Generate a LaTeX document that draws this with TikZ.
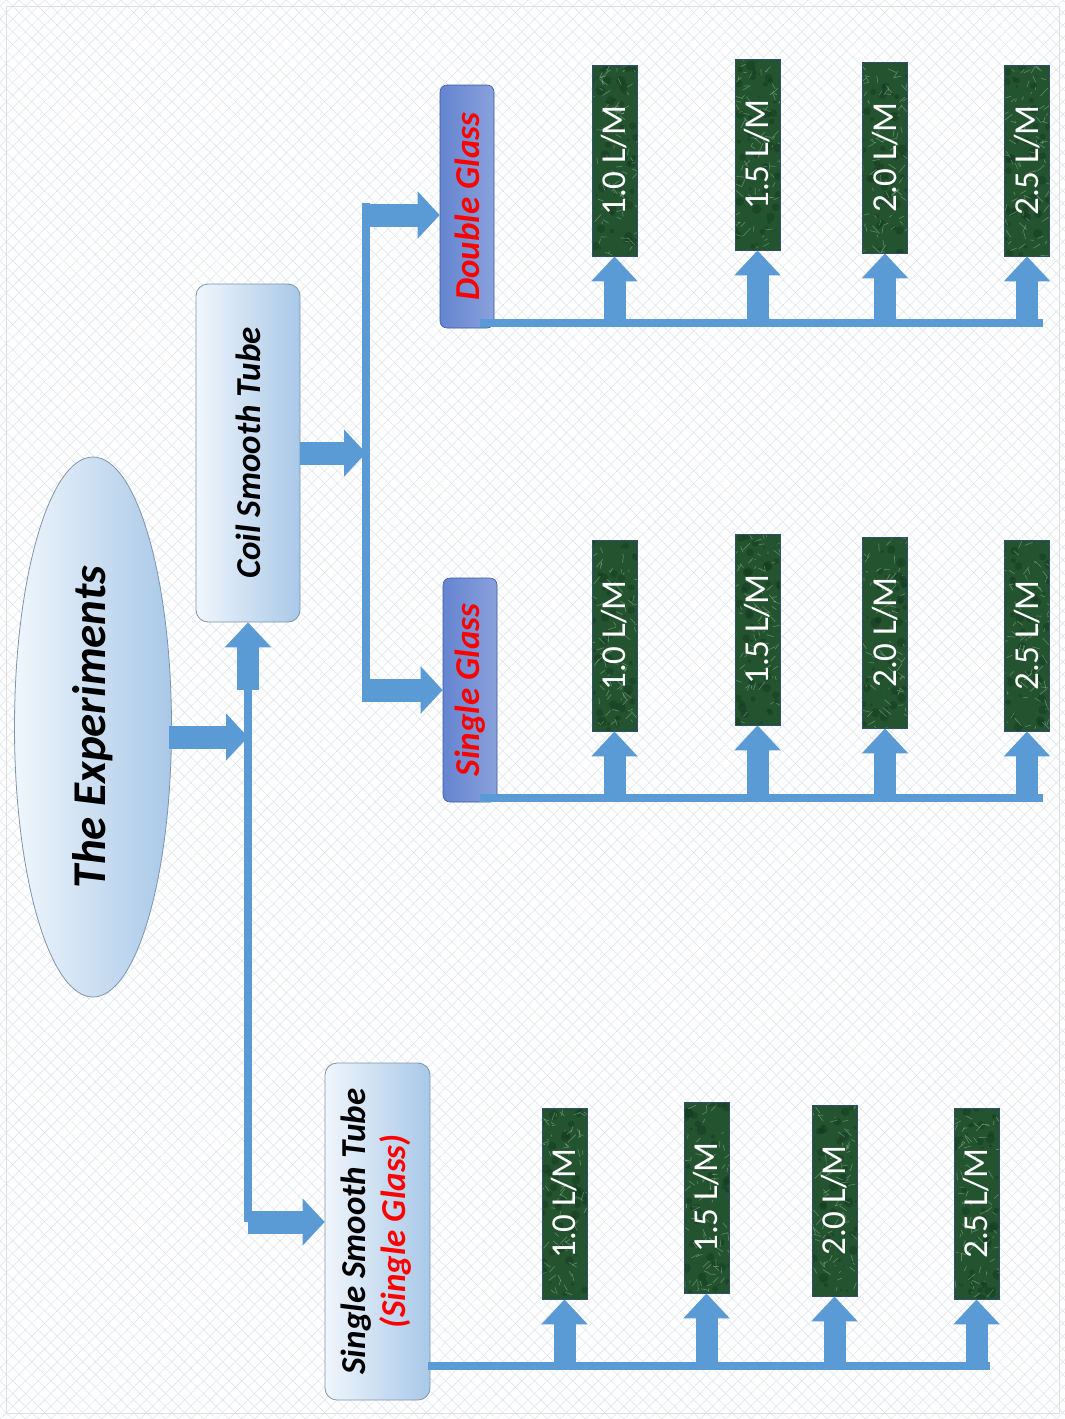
\documentclass[tikz,border=0pt]{standalone}
\usepackage{fontspec}
\setmainfont{Carlito}
\usetikzlibrary{arrows.meta,patterns.meta,calc,shapes.geometric}
\definecolor{lnblue}{HTML}{5B9BD5}
\definecolor{lnedge}{HTML}{41719C}
\definecolor{bxedge}{HTML}{7D95AD}
\definecolor{bxlight}{HTML}{F0F6FC}
\definecolor{bxdark}{HTML}{A9C8E8}
\definecolor{glblue}{HTML}{4A6FC8}
\definecolor{glmid}{HTML}{FFFFFF}
\definecolor{lmgreen}{HTML}{24532F}
\definecolor{lmdark}{HTML}{143A20}
\definecolor{lmlight}{HTML}{9CC2A4}
\definecolor{lmedge}{HTML}{2F4F6F}
\definecolor{hatch}{HTML}{DCE4EC}
\definecolor{ttred}{HTML}{FF0000}
\tikzset{
  ellbox/.style={ellipse, inner sep=0pt, draw=bxedge, line width=0.8pt,
    left color=bxlight, right color=bxdark},
  rbox/.style={rectangle, rounded corners=12pt, inner sep=0pt, draw=bxedge, line width=0.8pt,
    left color=bxlight, right color=bxdark},
  glbox/.style={rectangle, rounded corners=7pt, inner sep=0pt, draw=glblue!80!black, line width=0.6pt,
    left color=glblue!85, middle color=glmid, right color=glblue!65, minimum width=54pt,
    font=\fontsize{35}{35}\selectfont\bfseries\itshape, text=ttred},
  lmbox/.style={rectangle, inner sep=0pt, minimum width=45pt, minimum height=191pt,
    fill=lmgreen, draw=lmedge, line width=0.8pt, text=white,
    font=\fontsize{35}{35}\selectfont,
    path picture={
      \foreach \i in {1,...,45}{
        \pgfmathsetmacro{\px}{rnd*45}\pgfmathsetmacro{\py}{rnd*191}\pgfmathsetmacro{\pr}{1+rnd*4}
        \fill[lmdark, opacity=0.5] ($(path picture bounding box.south west)+(\px pt,\py pt)$) circle (\pr pt);
      }
      \foreach \i in {1,...,80}{
        \pgfmathsetmacro{\px}{rnd*45}\pgfmathsetmacro{\py}{rnd*191}
        \pgfmathsetmacro{\dx}{rand*8}\pgfmathsetmacro{\dy}{rand*8}
        \draw[lmlight, opacity=0.45, line width=0.7pt] ($(path picture bounding box.south west)+(\px pt,\py pt)$) -- ++(\dx pt,\dy pt);
      }
    }},
  mainline/.style={draw=lnblue, line width=8pt},
  barrow/.style={draw=lnblue, line width=23pt, -{Triangle[width=46pt,length=22pt]}},
  uarrow/.style={draw=lnblue, line width=22pt, -{Triangle[width=45pt,length=25pt]}}
}
\begin{document}
\begin{tikzpicture}[x=1pt,y=-1pt]
\pgfmathsetseed{4711}
\useasboundingbox (0,0) rectangle (1065,1419);
\fill[white] (0,0) rectangle (1065,1419);
\fill[pattern={Lines[angle=45,distance=9pt,line width=0.5pt]}, pattern color=hatch] (0,0) rectangle (1065,1419);
\fill[pattern={Lines[angle=-45,distance=9pt,line width=0.5pt]}, pattern color=hatch] (0,0) rectangle (1065,1419);
\draw[black!12, line width=1pt] (6,6) rectangle (1059,1413);

% main nodes
\node[ellbox, minimum width=157pt, minimum height=540pt] (exp) at (93,727)
  {\rotatebox{90}{\fontsize{47}{47}\selectfont\bfseries\itshape The Experiments}};
\node[rbox, minimum width=104pt, minimum height=338pt] (coil) at (248,453)
  {\rotatebox{90}{\fontsize{35}{35}\selectfont\bfseries\itshape Coil Smooth Tube}};
\node[rbox, minimum width=105pt, minimum height=337pt] (sst) at (377.5,1231.5)
  {\rotatebox{90}{\fontsize{35}{40}\selectfont\bfseries\itshape\begin{tabular}{@{}c@{}}Single Smooth Tube\\\color{ttred}(Single Glass)\end{tabular}}};
\node[glbox, minimum height=243pt] (dg) at (467,206.5) {\rotatebox{90}{Double Glass}};
\node[glbox, minimum height=224pt] (sg) at (470,690) {\rotatebox{90}{Single Glass}};

% L/M boxes
\node[lmbox] (d1) at (614.5,160.5) {\rotatebox{90}{1.0 L/M}};
\node[lmbox] (d2) at (757.5,154.5) {\rotatebox{90}{1.5 L/M}};
\node[lmbox] (d3) at (885,157.5) {\rotatebox{90}{2.0 L/M}};
\node[lmbox] (d4) at (1027,160.5) {\rotatebox{90}{2.5 L/M}};
\node[lmbox] (s1) at (614.5,635.5) {\rotatebox{90}{1.0 L/M}};
\node[lmbox] (s2) at (757.5,629.5) {\rotatebox{90}{1.5 L/M}};
\node[lmbox] (s3) at (885,632.5) {\rotatebox{90}{2.0 L/M}};
\node[lmbox] (s4) at (1027,635.5) {\rotatebox{90}{2.5 L/M}};
\node[lmbox] (t1) at (564.5,1203.5) {\rotatebox{90}{1.0 L/M}};
\node[lmbox] (t2) at (706.5,1197.5) {\rotatebox{90}{1.5 L/M}};
\node[lmbox] (t3) at (834.5,1200.5) {\rotatebox{90}{2.0 L/M}};
\node[lmbox] (t4) at (976.5,1203.5) {\rotatebox{90}{2.5 L/M}};

% junction coordinates
\coordinate (j0) at (248,737);
\coordinate (jc) at (248,690);
\coordinate (js) at (248,1222);
\coordinate (jm) at (366,453);
\coordinate (jd) at (366,215);
\coordinate (jg) at (366,690);
\coordinate (l2top) at (366,203);
\coordinate (l2bot) at (366,702);
\coordinate (db0) at (480,323);
\coordinate (db1) at (1043,323);
\coordinate (sb0) at (480,798);
\coordinate (sb1) at (1043,798);
\coordinate (tb0) at (428,1366);
\coordinate (tb1) at (990,1366);

% trunk lines
\draw[mainline] (jc) -- (js);
\draw[mainline] (l2top) -- (l2bot);
\draw[mainline] (db0) -- (db1);
\draw[mainline] (sb0) -- (sb1);
\draw[mainline] (tb0) -- (tb1);

% block arrows
\draw[barrow] ($(exp.east |- j0)+(-3,0)$) -- (j0);
\draw[uarrow] (jc) -- (coil.south);
\draw[barrow] (js) -- (sst.west |- js);
\draw[barrow] (coil.east |- jm) -- (jm);
\draw[barrow] (jd) -- (dg.west |- jd);
\draw[barrow] (jg) -- (sg.west |- jg);

\foreach \n in {d1,d2,d3,d4}{\draw[uarrow] ($(\n.south |- db0)+(0,3)$) -- (\n.south);}
\foreach \n in {s1,s2,s3,s4}{\draw[uarrow] ($(\n.south |- sb0)+(0,3)$) -- (\n.south);}
\foreach \n in {t1,t2,t3,t4}{\draw[uarrow] ($(\n.south |- tb0)+(0,3)$) -- (\n.south);}
\end{tikzpicture}
\end{document}
